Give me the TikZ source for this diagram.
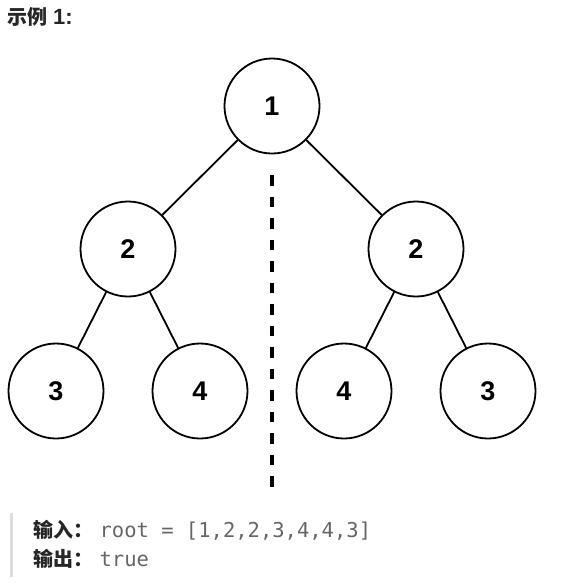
\documentclass[tikz,border=0pt]{standalone}
\usepackage{fontspec}
\setmainfont{Liberation Sans}
\setmonofont{DejaVu Sans Mono}
\newfontfamily\cjk{Noto Sans CJK SC}
\usetikzlibrary{positioning}

\definecolor{codegray}{HTML}{666666}
\definecolor{bargray}{HTML}{DDDDDD}

\begin{document}
\begin{tikzpicture}[
	x=1pt, y=-1pt,
	% Define styles
	treenode/.style={circle, draw=black, line width=1.8pt, minimum size=95pt, inner sep=0pt, font=\fontsize{27}{30}\selectfont\bfseries},
	edge/.style={line width=1.8pt, black},
	mirror/.style={line width=3.5pt, black, dash pattern=on 10.5pt off 11pt},
	label/.style={anchor=base west, inner sep=0pt, font=\fontsize{20}{24}\selectfont\cjk\bfseries, text=black!85},
	code/.style={anchor=base west, inner sep=0pt, font=\fontsize{20.5}{24}\selectfont\ttfamily, text=codegray}
	]
	\useasboundingbox (0,0) rectangle (564,584);
	
	% Title
	\node[label] (title) at (7,24) {示例\hspace{6pt}{\fontspec{Liberation Sans}\fontsize{22}{24}\selectfont\bfseries 1:}};
	
	% 1. Tree nodes
	\node[treenode] (root) at (272,106) {1};
	\node[treenode] (l) at (128,249) {2};
	\node[treenode] (r) at (416,249) {2};
	\node[treenode] (ll) at (56,391) {3};
	\node[treenode] (lr) at (200,391) {4};
	\node[treenode] (rl) at (344,391) {4};
	\node[treenode] (rr) at (488,391) {3};
	
	% 2. Edges
	\draw[edge] (root) -- (l);
	\draw[edge] (root) -- (r);
	\draw[edge] (l) -- (ll);
	\draw[edge] (l) -- (lr);
	\draw[edge] (r) -- (rl);
	\draw[edge] (r) -- (rr);
	
	% 3. Mirror axis
	\coordinate (axtop) at (272,175);
	\coordinate (axbot) at (272,488);
	\draw[mirror] (axtop) -- (axbot);
	
	% 4. Input / output block
	\coordinate (bartop) at (11,513);
	\coordinate (barbot) at (11,577);
	\draw[bargray, line width=3pt] (bartop) -- (barbot);
	\node[label] (inlbl) at (33,537) {输入：};
	\node[code, right=6pt of inlbl.base east, anchor=base west] (incode) {root = [1,2,2,3,4,4,3]};
	\node[label] (outlbl) at (33,566) {输出：};
	\node[code, right=6pt of outlbl.base east, anchor=base west] (outcode) {true};
\end{tikzpicture}
\end{document}
